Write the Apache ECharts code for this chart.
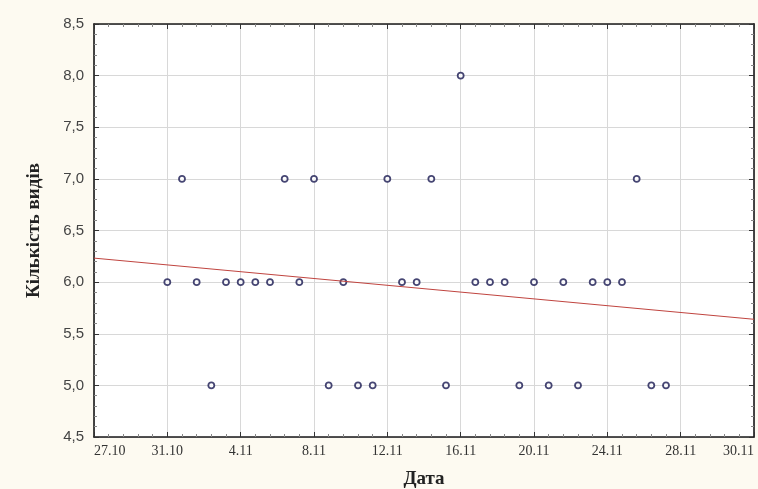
<!DOCTYPE html>
<html>
<head>
<meta charset="utf-8">
<script src="https://cdn.jsdelivr.net/npm/echarts@6/dist/echarts.min.js"></script>
<style>
  html, body { margin: 0; padding: 0; background: #fdfaf1; }
  #chart { width: 758px; height: 489px; }
</style>
</head>
<body>
<div id="chart"></div>
<script>
// x: observation index (5 per tick step), tick labels are dates
var tickLabels = ["27.10", "31.10", "4.11", "8.11", "12.11", "16.11", "20.11", "24.11", "28.11", "30.11"];
var species = [6, 7, 6, 5, 6, 6, 6, 6, 7, 6, 7, 5, 6, 5, 5, 7, 6, 6, 7, 5,
               8, 6, 6, 6, 5, 6, 5, 6, 5, 6, 6, 6, 7, 5, 5];
var xMin = -5, xMax = 40, xStep = 5;

var points = species.map(function (v, i) { return [i, v]; });

// least squares fit
var n = points.length, sx = 0, sy = 0, sxx = 0, sxy = 0;
points.forEach(function (p) { sx += p[0]; sy += p[1]; sxx += p[0] * p[0]; sxy += p[0] * p[1]; });
var slope = (n * sxy - sx * sy) / (n * sxx - sx * sx);
var icpt = (sy - slope * sx) / n;
var fitLine = [[xMin, icpt + slope * xMin], [xMax, icpt + slope * xMax]];

var dom = echarts.init(document.getElementById("chart"));
var frame = { show: true, onZero: false, lineStyle: { color: "#1a1a1a", width: 1.6 } };
var tick = { show: true, inside: true, length: 5, lineStyle: { color: "#333" } };
var minor = { show: true, splitNumber: 5, length: 3, lineStyle: { color: "#888" } };

var option = {
  backgroundColor: "#fdfaf1",
  animation: false,
  grid: {
    left: 94, right: 4, top: 24, bottom: 52, containLabel: false, outerBoundsMode: "none",
    show: true, backgroundColor: "#fff", borderWidth: 0
  },
  xAxis: [
    {
      type: "value", min: xMin, max: xMax, interval: xStep,
      name: "Дата", nameLocation: "middle", nameGap: 33,
      nameTextStyle: { fontFamily: "Liberation Serif", fontWeight: "bold", fontSize: 19, color: "#222" },
      axisLine: frame, axisTick: tick, minorTick: minor,
      axisLabel: {
        fontFamily: "Liberation Serif", fontSize: 14, color: "#333", margin: 7,
        alignMinLabel: "left", alignMaxLabel: "right",
        formatter: function (v) { return tickLabels[Math.round((v - xMin) / xStep)] || ""; }
      },
      splitLine: { show: true, lineStyle: { color: "#d8d8d8" } }
    },
    {
      type: "value", position: "top", min: xMin, max: xMax, interval: xStep,
      axisLine: frame, axisTick: tick, minorTick: minor, axisLabel: { show: false }, splitLine: { show: false }
    }
  ],
  yAxis: [
    {
      type: "value", min: 4.5, max: 8.5, interval: 0.5,
      name: "Кількість видів", nameLocation: "middle", nameGap: 50,
      nameTextStyle: { fontFamily: "Liberation Serif", fontWeight: "bold", fontSize: 19, color: "#222" },
      axisLine: frame, axisTick: tick, minorTick: minor,
      axisLabel: {
        fontFamily: "Liberation Sans", fontSize: 15, color: "#444", margin: 10,
        formatter: function (v) { return v.toFixed(1).replace(".", ","); }
      },
      splitLine: { show: true, lineStyle: { color: "#d8d8d8" } }
    },
    {
      type: "value", position: "right", min: 4.5, max: 8.5, interval: 0.5,
      axisLine: frame, axisTick: tick, minorTick: minor, axisLabel: { show: false }, splitLine: { show: false }
    }
  ],
  series: [
    {
      type: "line", data: fitLine, symbol: "none", silent: true,
      lineStyle: { color: "#c0443f", width: 1 }
    },
    {
      type: "scatter", data: points, symbol: "circle", symbolSize: 6,
      itemStyle: { color: "#fff", borderColor: "#181850", borderWidth: 1.8 }
    }
  ]
};
dom.setOption(option);
</script>
</body>
</html>
